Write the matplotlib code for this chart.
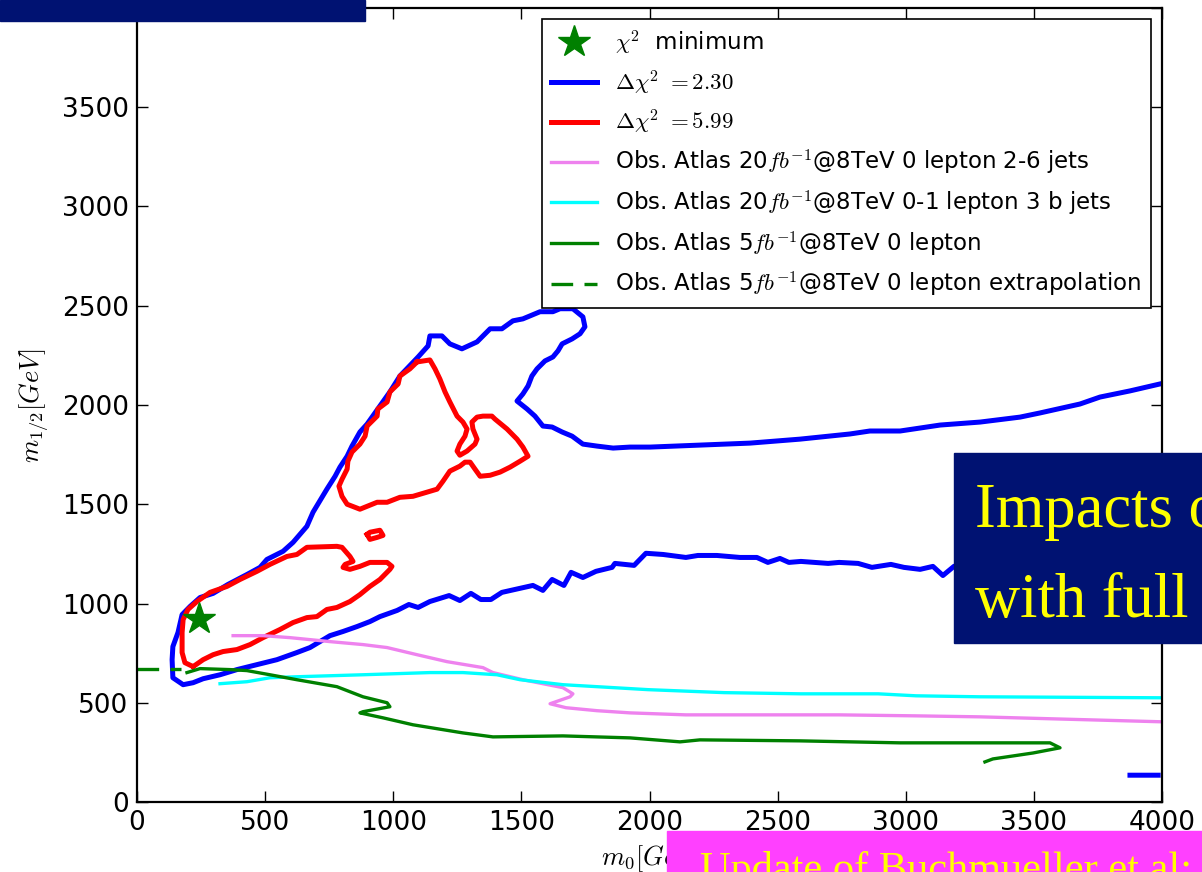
import numpy as np
import matplotlib
matplotlib.use('Agg')
import matplotlib.pyplot as plt
from matplotlib.patches import Rectangle

plt.rcParams['mathtext.fontset'] = 'cm'
plt.rcParams['font.family'] = ['DejaVu Sans']

nan = np.nan

# best fit point
best_m0 = [240]
best_m12 = [920]

# delta chi2 = 2.30 contour, pieces split by nan
c230_m0 = [3992, 3875, 3758, 3680, 3524, 3446, 3290, 3134, 2978, 2860, 2782, 2587, 2392, 2197,
           2002, 1924, 1858, 1795, 1740, 1698, 1659, 1620, 1584, 1553, 1522, 1483, 1506, 1526,
           1541, 1561, 1592, 1623, 1643, 1659, 1698, 1729, 1748, 1740, 1701, 1651, 1623, 1573,
           1506, 1467, 1424, 1378, 1327, 1268, 1221, 1190, 1143, 1136, 1097, 1026, 987, 948,
           898, 870, 839, 820, 792, 773, 741, 687, 663, 609, 570, 507, 480, 429, 355, 297, 246,
           207, 176, 160, 140, 137, 140, 180, 219, 258, 324, 390, 468, 546, 624, 675, 714, 753,
           804, 859, 909, 948, 1015, 1061, 1097, 1143, 1218, 1260, 1303, 1342, 1381, 1424, 1545,
           1584, 1620, 1666, 1694, 1740, 1791, 1854, 1865, 1940, 1986, 2053, 2142, 2189, 2263,
           2353, 2419, 2462, 2509, 2544, 2591, 2697, 2740, 2814, 2868, 2942, 2993, 3056, 3106,
           3145, 3188, 3270, 3368,
           nan, 3875, 3985]
c230_m12 = [2106, 2071, 2040, 2005, 1960, 1939, 1914, 1899, 1869, 1869, 1854, 1828, 1808, 1798,
            1788, 1788, 1783, 1793, 1803, 1843, 1864, 1889, 1894, 1944, 1980, 2020, 2056, 2096,
            2146, 2182, 2222, 2242, 2273, 2308, 2333, 2359, 2394, 2444, 2485, 2485, 2470, 2470,
            2434, 2424, 2384, 2384, 2318, 2283, 2308, 2348, 2348, 2298, 2242, 2146, 2066, 1995,
            1904, 1864, 1793, 1742, 1687, 1641, 1576, 1460, 1389, 1308, 1263, 1222, 1182, 1146,
            1096, 1051, 1030, 985, 944, 854, 783, 717, 626, 591, 601, 621, 641, 667, 692, 717,
            753, 778, 808, 838, 859, 884, 909, 934, 965, 995, 980, 1010, 1040, 1015, 1051, 1020,
            1020, 1056, 1091, 1066, 1121, 1091, 1157, 1131, 1162, 1182, 1202, 1192, 1253, 1247,
            1232, 1242, 1242, 1232, 1232, 1207, 1227, 1207, 1212, 1202, 1207, 1202, 1182, 1197,
            1182, 1172, 1187, 1141, 1187, 1222, 1247,
            nan, 135, 135]

# delta chi2 = 5.99 contour: lower tongue, small island, upper triangle
c599_m0 = [219, 258, 297, 336, 390, 441, 492, 558, 609, 663, 702, 741, 780, 831, 870, 909, 948,
           987, 995, 976, 909, 870, 831, 804, 812, 843, 831, 800, 780, 663, 624, 585, 519, 468,
           402, 351, 285, 234, 199, 180, 176, 176, 187, 219,
           nan, 898, 909, 948, 960, 937, 909, 898,
           nan, 1093, 1143, 1163, 1182, 1202, 1221, 1249, 1272, 1288, 1280, 1260, 1249, 1260, 1288,
           1319, 1327, 1311, 1307, 1327, 1350, 1385, 1397, 1444, 1483, 1506, 1526, 1495, 1456,
           1417, 1378, 1339, 1319, 1300, 1280, 1260, 1221, 1194, 1171, 1132, 1077, 1026, 976,
           937, 870, 820, 800, 788, 800, 820, 823, 839, 870, 890, 898, 937, 940, 976, 987, 1019,
           1026, 1065, 1093]
c599_m12 = [682, 717, 742, 758, 768, 793, 828, 869, 904, 929, 934, 970, 980, 1010, 1045, 1086,
            1121, 1172, 1187, 1207, 1207, 1187, 1172, 1182, 1197, 1212, 1237, 1283, 1288, 1283,
            1247, 1237, 1197, 1162, 1121, 1086, 1056, 1010, 970, 919, 854, 753, 702, 682,
            nan, 1348, 1359, 1369, 1343, 1333, 1323, 1348,
            nan, 2217, 2227, 2182, 2131, 2066, 2015, 1944, 1914, 1879, 1843, 1803, 1768, 1747,
            1768, 1803, 1828, 1879, 1914, 1939, 1944, 1944, 1929, 1879, 1828, 1788, 1742, 1717,
            1687, 1662, 1646, 1641, 1677, 1712, 1712, 1692, 1667, 1616, 1576, 1561, 1540, 1535,
            1510, 1510, 1475, 1500, 1540, 1591, 1626, 1677, 1717, 1763, 1803, 1843, 1894, 1944,
            1980, 2015, 2066, 2106, 2146, 2182, 2217]

# ATLAS 20 fb-1 0 lepton 2-6 jets
atlas_06j_m0 = [375, 492, 597, 753, 882, 976, 1093, 1210, 1350, 1389, 1506, 1662, 1701, 1690,
                1612, 1674, 1795, 1924, 2142, 2443, 2740, 3040, 3290, 4000]
atlas_06j_m12 = [838, 838, 828, 808, 793, 778, 742, 707, 677, 652, 616, 576, 545, 530, 495, 475,
                 460, 449, 439, 439, 439, 434, 429, 404]

# ATLAS 20 fb-1 0-1 lepton 3 b jets
atlas_3b_m0 = [324, 429, 519, 624, 882, 1143, 1272, 1405, 1495, 1662, 1994, 2291, 2591, 2892,
               3040, 3290, 4000]
atlas_3b_m12 = [596, 606, 626, 631, 641, 652, 652, 641, 616, 591, 566, 551, 545, 545, 535, 530,
                525]

# ATLAS 5 fb-1 0 lepton
atlas_5_m0 = [195, 246, 363, 429, 519, 624, 780, 882, 976, 987, 882, 870, 960, 1077, 1272, 1389,
              1662, 1924, 2119, 2197, 2587, 2782, 2978, 3563, 3602, 3497, 3340, 3309]
atlas_5_m12 = [652, 672, 667, 662, 641, 616, 581, 530, 500, 480, 455, 449, 424, 389, 348, 328,
               333, 323, 303, 313, 308, 303, 298, 298, 273, 247, 217, 202]

# extrapolation towards m0 = 0
atlas_5x_m0 = [0, 170]
atlas_5x_m12 = [672, 672]

fig = plt.figure(figsize=(12.02, 8.72), dpi=100)
ax = fig.add_axes([137 / 1202, 70 / 872, 1025 / 1202, 794 / 872])

ax.plot(best_m0, best_m12, '*', color='green', ms=24, mec='green', zorder=5,
        label=r'$\chi^2$  minimum', linestyle='none')
ax.plot(c230_m0, c230_m12, color='blue', lw=3.6, label=r'$\Delta\chi^2\ =2.30$')
ax.plot(c599_m0, c599_m12, color='red', lw=3.6, label=r'$\Delta\chi^2\ =5.99$')
ax.plot(atlas_06j_m0, atlas_06j_m12, color='violet', lw=2.4,
        label=r'Obs. Atlas 20$fb^{-1}$@8TeV 0 lepton 2-6 jets')
ax.plot(atlas_3b_m0, atlas_3b_m12, color='cyan', lw=2.4,
        label=r'Obs. Atlas 20$fb^{-1}$@8TeV 0-1 lepton 3 b jets')
ax.plot(atlas_5_m0, atlas_5_m12, color='green', lw=2.4,
        label=r'Obs. Atlas 5$fb^{-1}$@8TeV 0 lepton')
ax.plot(atlas_5x_m0, atlas_5x_m12, color='green', lw=2.4, linestyle=(0, (6.5, 3.4)),
        label=r'Obs. Atlas 5$fb^{-1}$@8TeV 0 lepton extrapolation')

ax.set_xlim(0, 4000)
ax.set_ylim(0, 4000)
ax.set_xticks(np.arange(0, 4001, 500))
ax.set_yticks(np.arange(0, 4001, 500))
ax.tick_params(direction='in', length=8, width=1, top=True, right=True, labelsize=19, pad=6)
for s in ax.spines.values():
    s.set_linewidth(1.6)

ax.set_xlabel(r'$m_0[GeV]$', fontsize=19, labelpad=5)
ax.set_ylabel(r'$m_{1/2}[GeV]$', fontsize=19, labelpad=8)

leg = ax.legend(loc='upper right', fontsize=16.5, numpoints=1, fancybox=False, framealpha=1,
                edgecolor='black', borderaxespad=0.5, handlelength=2.0, labelspacing=0.5,
                borderpad=0.4)
leg.get_frame().set_linewidth(1.2)

# slide decorations drawn over the plot
fig.add_artist(Rectangle((0, 851 / 872), 365 / 1202, 21 / 872, transform=fig.transFigure,
                         color='#001272', zorder=10))
fig.add_artist(Rectangle((954 / 1202, 229 / 872), 248 / 1202, 190 / 872, transform=fig.transFigure,
                         color='#001272', zorder=10))
fig.text(975 / 1202, 345 / 872, 'Impacts of', color='#FFFF00', fontsize=45,
         family='Liberation Serif', zorder=11)
fig.text(975 / 1202, 255 / 872, 'with full', color='#FFFF00', fontsize=45,
         family='Liberation Serif', zorder=11)
fig.add_artist(Rectangle((667 / 1202, 0), 535 / 1202, 41 / 872, transform=fig.transFigure,
                         color='#FF40FF', zorder=10))
fig.text(700 / 1202, -9 / 872, 'Update of Buchmueller et al:', color='#FFFF00', fontsize=30.5,
         family='Liberation Serif', zorder=11)

fig.savefig('out.png', dpi=100)
